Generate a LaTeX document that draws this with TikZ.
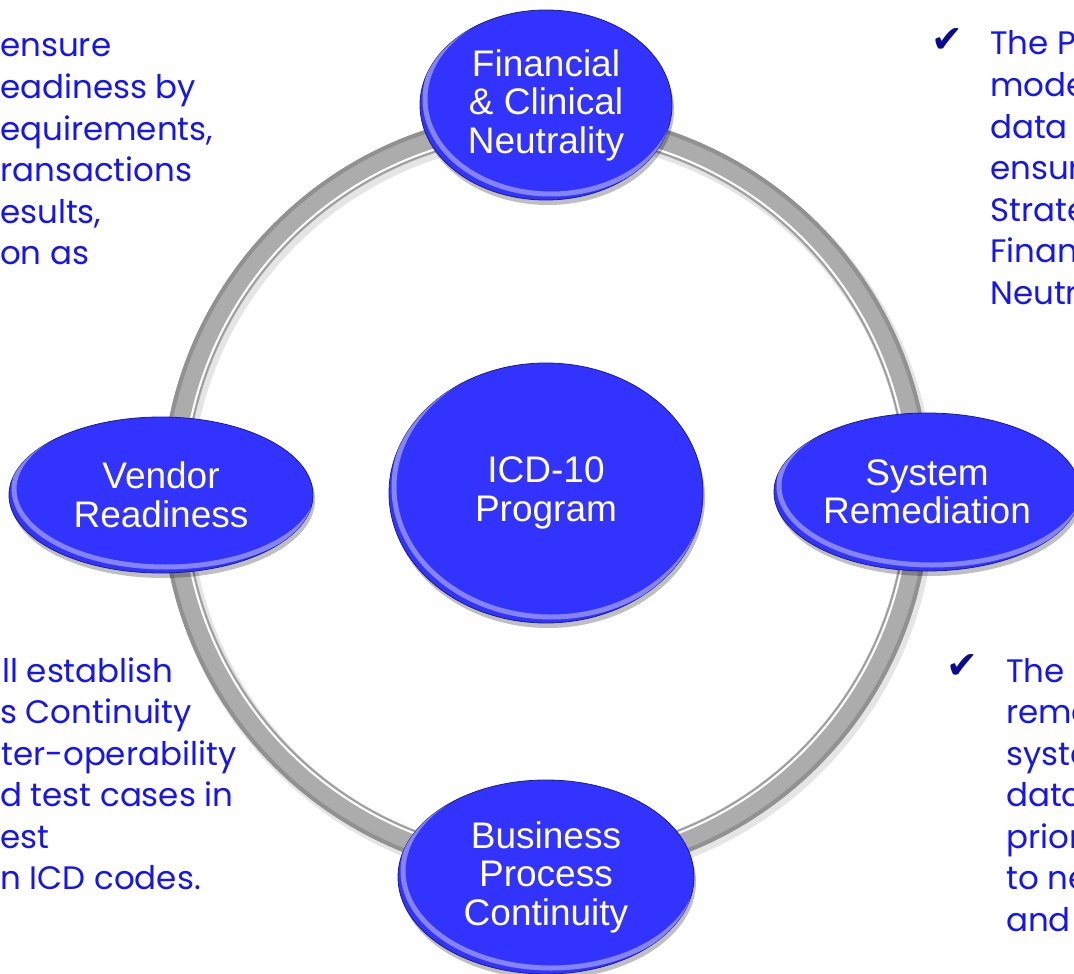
\documentclass[tikz,border=0pt]{standalone}
\usepackage{fontspec}
\setmainfont{Liberation Sans}
\newfontfamily\descfont{Poppins}
\newfontfamily\symfont{DejaVu Sans}
\usetikzlibrary{shapes.geometric,shadows}
\definecolor{nodeblue}{RGB}{51,51,255}
\definecolor{textblue}{RGB}{20,20,245}
\definecolor{tickblue}{RGB}{10,10,150}
\definecolor{ringgray}{RGB}{172,172,172}
\definecolor{ringdark}{RGB}{145,145,145}
\newcommand\glossrim[3]{%
  \begin{scope}
    \clip (#1.center) ellipse [x radius=#2, y radius=#3];
    \draw[white, opacity=0.4, line width=5pt] ([shift={(5,-6)}]#1.center) ellipse [x radius=#2, y radius=#3];
  \end{scope}}
\begin{document}
\begin{tikzpicture}[x=1pt,y=-1pt,
  bubble/.style={ellipse, fill=nodeblue, draw=nodeblue!55!black, line width=0.8pt,
    inner sep=0pt, align=center, text=white,
    font=\fontsize{37}{38.5}\selectfont,
    drop shadow={shadow xshift=2pt, shadow yshift=-5pt, opacity=0.25, fill=black}},
  desc/.style={anchor=base west, inner sep=0pt, text=textblue,
    font=\descfont\fontsize{32.5}{41.5}\selectfont},
  tick/.style={anchor=base west, inner sep=0pt, text=tickblue,
    font=\symfont\fontsize{38}{38}\selectfont}]

\useasboundingbox (0,0) rectangle (1074,974);
\clip (0,0) rectangle (1074,974);

% ring
\coordinate (c) at (546,495);
\draw[line width=28pt, black!10] ([shift={(3,4)}]c) circle (372);
\draw[line width=25pt, ringgray] (c) circle (372);
\draw[line width=4pt, ringdark] (c) circle (382.5);
\draw[line width=2pt, white] (c) circle (363);
\draw[line width=0.8pt, black!40] (c) circle (360.8);

% nodes
\node[bubble, minimum width=252pt, minimum height=190pt] (fin) at (546,105) {Financial\\\& Clinical\\Neutrality};
\glossrim{fin}{126}{95}
\node[bubble, minimum width=314pt, minimum height=260pt] (icd) at (546,493) {ICD-10\\Program};
\glossrim{icd}{157}{130}
\node[bubble, minimum width=304pt, minimum height=156pt] (ven) at (161,495) {Vendor\\Readiness};
\glossrim{ven}{152}{78}
\node[bubble, minimum width=306pt, minimum height=158pt] (sys) at (927,492) {System\\Remediation};
\glossrim{sys}{153}{79}
\node[bubble, minimum width=296pt, minimum height=194pt] (bus) at (546,877) {Business\\Process\\Continuity};
\glossrim{bus}{148}{97}

% top-left text
\foreach \t [count=\i from 0] in {{ensure},{eadiness by},{equirements,},{ransactions},{esults,},{on as}}
  \node[desc] (tl\i) at (0,57+41.5*\i) {\t};

% bottom-left text
\foreach \t/\xx [count=\i from 0] in {{ll establish}/2,{s Continuity}/0,{ter-operability}/1,{d test cases in}/0,{est}/0,{n ICD codes.}/0}
  \node[desc] (bl\i) at (\xx,682+41.5*\i) {\t};

% top-right text
\node[tick] (trt) at (931,53) {✔};
\foreach \t [count=\i from 0] in {{The P},{mode},{data},{ensur},{Strate},{Finan},{Neutr}}
  \node[desc] (tr\i) at (990,55+41.5*\i) {\t};

% bottom-right text
\node[tick] (brt) at (946,678) {✔};
\foreach \t [count=\i from 0] in {{The},{reme},{syste},{data},{prior},{to ne},{and}}
  \node[desc] (br\i) at (1006,682+41.5*\i) {\t};
\end{tikzpicture}
\end{document}
